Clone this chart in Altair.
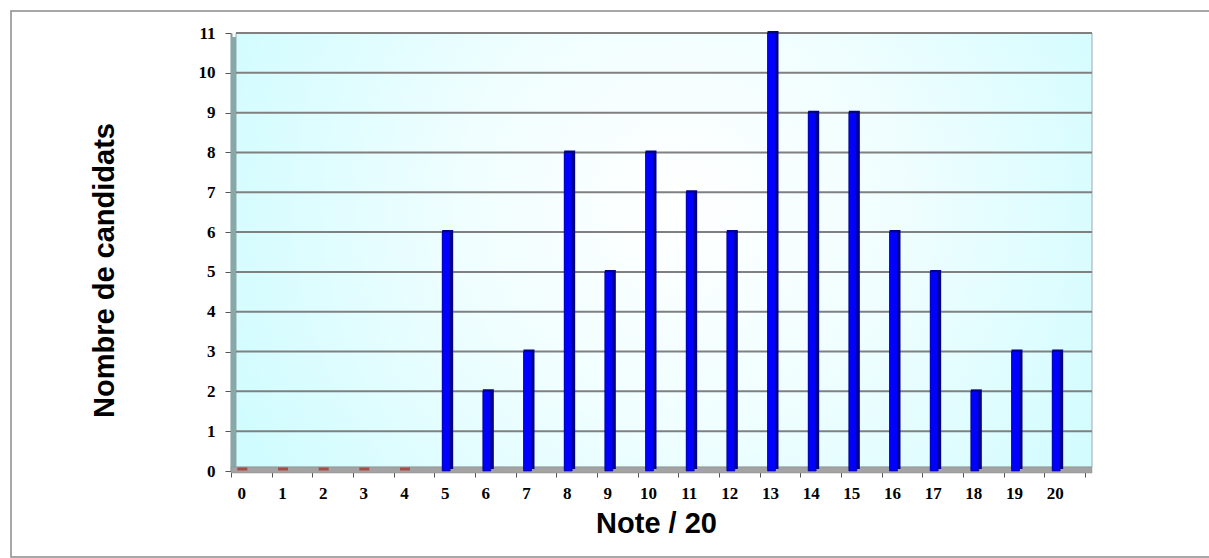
import altair as alt
import pandas as pd

# ---- data ----
notes = list(range(21))
candidats = [0, 0, 0, 0, 0, 6, 2, 3, 8, 5, 8, 7, 6, 11, 9, 9, 6, 5, 2, 3, 3]
y_ticks = list(range(12))

df = pd.DataFrame({"note": notes, "count": candidats})
grid_df = pd.DataFrame({"count": y_ticks[1:]})
one = pd.DataFrame({"k": [0]})

W, H = 854, 438

x_enc = alt.X(
    "note:O",
    sort=notes,
    scale=alt.Scale(paddingInner=0, paddingOuter=0),
    axis=alt.Axis(
        title="Note / 20",
        labelAngle=0,
        tickBand="extent",
        labelOffset=-10,
        labelFont="Liberation Serif",
        labelFontWeight="bold",
        labelFontSize=17,
        labelColor="black",
        labelPadding=8,
        tickSize=6,
        tickColor="#555555",
        domain=False,
        titleFont="Liberation Sans",
        titleFontSize=29,
        titleFontWeight="bold",
        titleColor="black",
        titleX=425,
        titleY=61,
        titleAlign="center",
        titleBaseline="alphabetic",
    ),
)
y_enc = alt.Y(
    "count:Q",
    scale=alt.Scale(domain=[0, 11], nice=False),
    axis=alt.Axis(
        title="Nombre de candidats",
        values=y_ticks,
        grid=False,
        labelFont="Liberation Serif",
        labelFontWeight="bold",
        labelFontSize=17,
        labelColor="black",
        labelPadding=10,
        tickSize=6,
        tickColor="#555555",
        domainColor="#7a9a9a",
        domainWidth=2,
        titleFont="Liberation Sans",
        titleFontSize=29,
        titleFontWeight="bold",
        titleColor="black",
        titleAngle=270,
        titleX=-127,
        titleY=237,
        titleAlign="center",
        titleBaseline="middle",
    ),
)

# outer frame
frame = alt.Chart(one).mark_rect(fill=None, stroke="#8a8a8a", strokeWidth=1.5).encode(
    x=alt.value(-220), x2=alt.value(1000), y=alt.value(-22), y2=alt.value(524)
)

# back wall with radial gradient
wall = alt.Chart(one).mark_rect(
    fill={
        "gradient": "radial",
        "x1": 0.52, "y1": 0.45, "r1": 0.0,
        "x2": 0.52, "y2": 0.45, "r2": 0.72,
        "stops": [
            {"offset": 0, "color": "#ffffff"},
            {"offset": 0.35, "color": "#f0feff"},
            {"offset": 1, "color": "#c2fbff"},
        ],
    },
    stroke="#9aaaaa",
    strokeWidth=1,
).encode(x=alt.value(5), x2=alt.value(861), y=alt.value(0), y2=alt.value(434))

# left wall
left_wall = alt.Chart(one).mark_rect(fill="#86a8a8").encode(
    x=alt.value(0), x2=alt.value(5), y=alt.value(4), y2=alt.value(438)
)

# floor
floor = alt.Chart(one).mark_rect(fill="#a3a3a3", stroke="#8c8c8c", strokeWidth=0.5).encode(
    x=alt.value(0), x2=alt.value(861), y=alt.value(434), y2=alt.value(440)
)

# gridlines
grid = alt.Chart(grid_df).mark_rule(color="#808080", strokeWidth=2).encode(
    y=y_enc, x=alt.value(5), x2=alt.value(861)
)

# bars: dark side (depth) then blue front face
side = alt.Chart(df).mark_bar(size=11, color="#00008a", xOffset=-7, yOffset=-2).encode(
    x=x_enc, y=y_enc
).transform_filter("datum.count > 0")

front = alt.Chart(df).mark_bar(
    size=8, color="#0000ff", stroke="#000070", strokeWidth=0.6, xOffset=-8.5
).encode(x=x_enc, y=y_enc).transform_filter("datum.count > 0")

# red flat markers for zero counts
zeros = alt.Chart(df).mark_tick(
    orient="horizontal", size=10, thickness=3, color="#a8281c", xOffset=-9, yOffset=-2
).encode(x=x_enc, y=y_enc).transform_filter("datum.count == 0")

chart = (
    alt.layer(frame, wall, left_wall, floor, grid, side, front, zeros)
    .properties(
        width=W,
        height=H,
        autosize=alt.AutoSizeParams(type="none"),
        padding={"left": 231, "top": 33, "right": 124, "bottom": 87},
        background="white",
    )
    .configure_view(stroke=None)
)

chart.save("out.html", embed_options={"renderer": "svg", "actions": False})
